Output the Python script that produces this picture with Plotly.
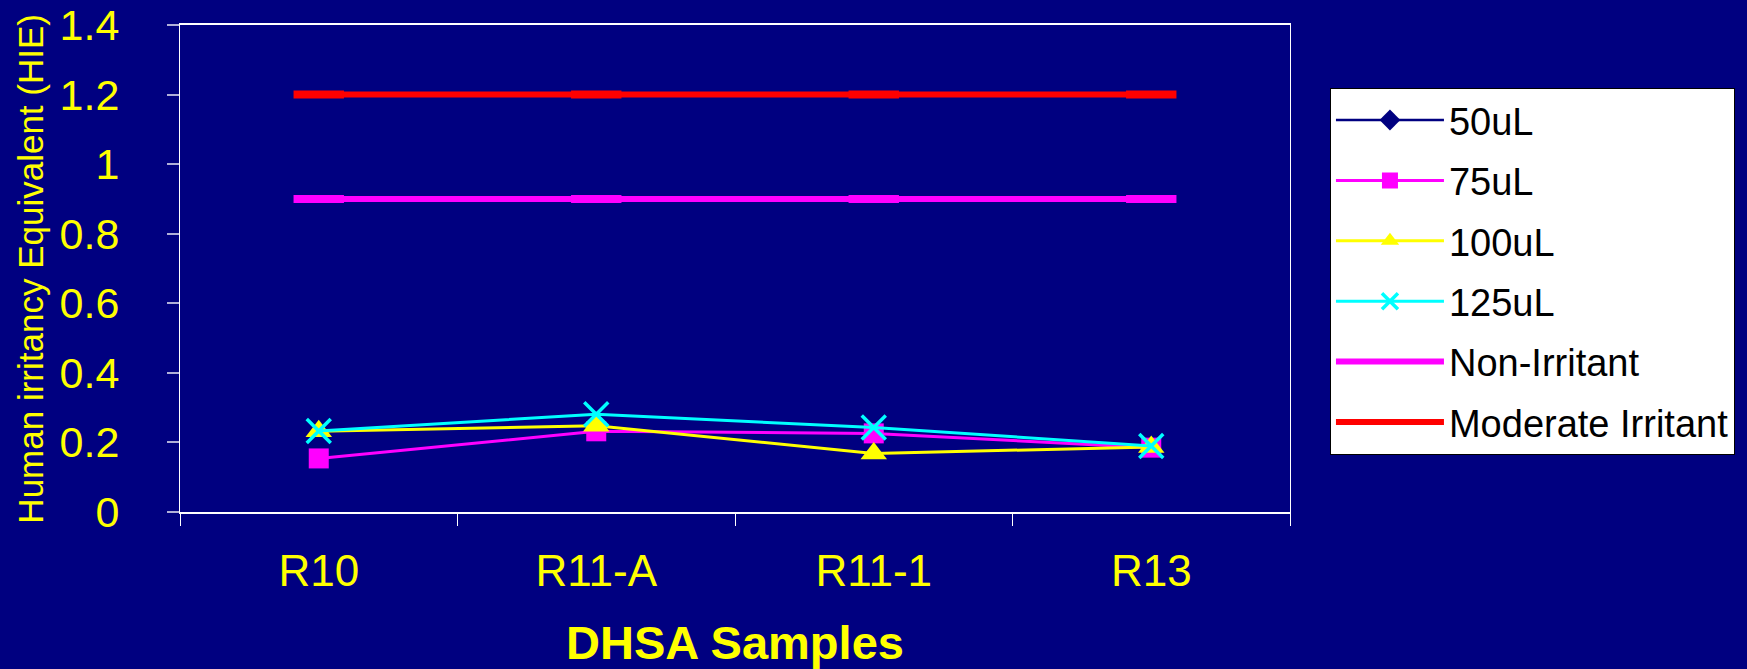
import plotly.graph_objects as go

categories = ["R10", "R11-A", "R11-1", "R13"]
v50 = [0.20, 0.22, 0.19, 0.18]
v75 = [0.154, 0.232, 0.226, 0.185]
v100 = [0.232, 0.248, 0.168, 0.187]
v125 = [0.233, 0.281, 0.243, 0.190]
non_irritant = [0.9, 0.9, 0.9, 0.9]
moderate_irritant = [1.2, 1.2, 1.2, 1.2]
y_ticks = [0, 0.2, 0.4, 0.6, 0.8, 1, 1.2, 1.4]
y_ticktext = ["0", "0.2", "0.4", "0.6", "0.8", "1", "1.2", "1.4"]

BG = "#000080"
YEL = "#FFFF00"
FONT = "Liberation Sans, Arial, sans-serif"

fig = go.Figure()

def add(name, vals, color, symbol, msize, lw, mline=None):
    marker = dict(symbol=symbol, size=msize, color=color)
    if mline:
        marker["line"] = dict(width=mline, color=color)
    fig.add_trace(go.Scatter(
        x=categories, y=vals, name=name, mode="lines+markers",
        line=dict(color=color, width=lw), marker=marker,
        legendgroup=name,
    ))

add("50uL", v50, "#000080", "diamond", 22, 2.5)
add("75uL", v75, "#FF00FF", "square", 20, 3)
add("100uL", v100, "#FFFF00", "triangle-up", 23, 3)
add("125uL", v125, "#00FFFF", "x-thin-open", 24, 3, mline=3.5)
add("Non-Irritant", non_irritant, "#FF00FF", "line-ew-open", 36, 6, mline=8)
add("Moderate Irritant", moderate_irritant, "#FF0000", "line-ew-open", 36, 6, mline=8)

fig.update_layout(
    width=1747, height=669,
    paper_bgcolor=BG, plot_bgcolor=BG,
    margin=dict(l=180, r=455, t=25, b=157),
    font=dict(family=FONT, color=YEL),
    showlegend=True,
    legend=dict(
        x=1.036, y=0.871, xanchor="left", yanchor="top",
        bgcolor="#FFFFFF", bordercolor="#000000", borderwidth=1,
        font=dict(family=FONT, size=38, color="#000000"),
        itemwidth=108, tracegroupgap=8, traceorder="grouped",
    ),
    xaxis=dict(
        type="category", tickson="boundaries", range=[-0.5, 3.5], automargin=False,
        showline=True, linecolor="#FFFFFF", linewidth=2, mirror=True,
        ticks="outside", ticklen=12, tickcolor="#FFFFFF", tickwidth=1,
        tickfont=dict(family=FONT, size=44, color=YEL),
        ticklabelstandoff=19,
        showgrid=False, zeroline=False,
        title=dict(text="<b>DHSA Samples</b>", font=dict(family=FONT, size=47, color=YEL), standoff=38),
    ),
    yaxis=dict(
        range=[0, 1.4], tickvals=y_ticks, ticktext=y_ticktext, automargin=False,
        showline=True, linecolor="#FFFFFF", linewidth=1, mirror=True,
        ticks="outside", ticklen=12, tickcolor="#B0B0D8", tickwidth=2,
        tickfont=dict(family=FONT, size=43, color=YEL),
        ticklabelstandoff=39,
        showgrid=False, zeroline=False,
    ),
    annotations=[dict(
        text="Human irritancy Equivalent (HIE)", textangle=-90,
        xref="paper", yref="paper", x=-0.135, y=0.5,
        xanchor="center", yanchor="middle", showarrow=False,
        font=dict(family=FONT, size=35, color=YEL),
    )],
)

fig.write_html("out.html")
